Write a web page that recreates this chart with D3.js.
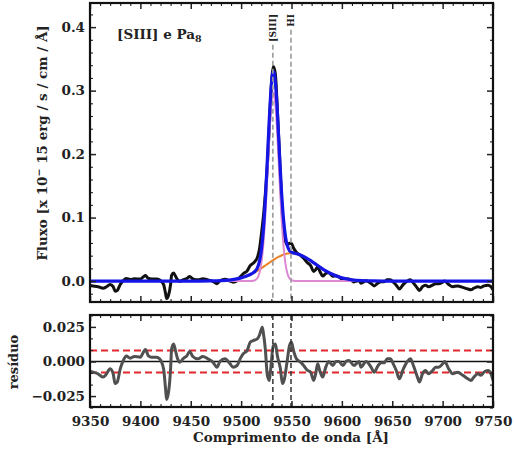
<!DOCTYPE html>
<html>
<head>
<meta charset="utf-8">
<script src="https://cdn.jsdelivr.net/npm/d3@7"></script>
<style>
  body { margin: 0; background: #fff; }
  text { font-family: "DejaVu Serif", serif; font-weight: bold; fill: #222; }
</style>
</head>
<body>
<div id="chart"></div>
<script>
const waveObs = [9350,9353,9358,9363,9366,9370,9373,9375,9377,9380,9383,9386,9390,9394,9400,9403,9405,9408,9411,9416,9419,9423,9425,9426,9428,9430,9431,9433,9434,9437,9439,9443,9446,9449,9452,9457,9462,9467,9472,9476,9479,9484,9489,9492,9496,9499,9502,9506,9509,9512,9516,9518,9521,9522,9524,9526,9528,9529,9532,9534,9536,9539,9541,9543,9546,9548,9550,9552,9555,9559,9562,9566,9569,9572,9574,9576,9578,9581,9584,9587,9591,9594,9597,9601,9604,9607,9612,9617,9619,9624,9629,9632,9636,9639,9642,9645,9648,9651,9654,9657,9661,9665,9668,9671,9675,9677,9680,9683,9686,9690,9693,9696,9700,9702,9706,9710,9715,9720,9725,9728,9731,9735,9738,9741,9745,9748,9750];

const fluxObs = [-0.0070,-0.0077,-0.0089,-0.0113,-0.0094,-0.0053,-0.0089,-0.0160,-0.0150,-0.0053,0.0007,0.0040,0.0024,0.0036,0.0031,0.0067,0.0086,0.0040,0.0031,0.0031,0.0019,-0.0053,-0.0197,-0.0274,-0.0220,-0.0053,0.0091,0.0127,0.0103,0.0019,-0.0005,0.0024,0.0040,0.0072,0.0036,0.0019,0.0036,0.0019,-0.0005,-0.0041,0.0005,0.0029,0.0000,-0.0017,0.0006,0.0065,0.0115,0.0161,0.0243,0.0281,0.0367,0.0484,0.0859,0.1003,0.1366,0.1807,0.2432,0.2783,0.3380,0.3259,0.2691,0.1663,0.1030,0.0696,0.0569,0.0596,0.0593,0.0521,0.0450,0.0405,0.0359,0.0287,0.0244,0.0152,0.0178,0.0228,0.0158,0.0078,0.0120,0.0134,0.0074,0.0082,0.0068,0.0017,0.0035,0.0034,-0.0013,0.0009,-0.0034,0.0004,-0.0039,-0.0077,-0.0029,-0.0010,-0.0010,0.0019,0.0019,-0.0017,-0.0065,-0.0125,-0.0053,0.0000,0.0019,-0.0029,-0.0113,-0.0149,-0.0089,-0.0065,-0.0089,-0.0065,-0.0041,-0.0041,-0.0017,0.0000,-0.0053,-0.0089,-0.0077,-0.0100,-0.0125,-0.0137,-0.0113,-0.0089,-0.0100,-0.0077,-0.0065,-0.0089,-0.0137];

const residObs = [-0.0070,-0.0077,-0.0089,-0.0113,-0.0094,-0.0053,-0.0089,-0.0160,-0.0150,-0.0053,0.0007,0.0040,0.0024,0.0036,0.0031,0.0067,0.0086,0.0040,0.0031,0.0031,0.0019,-0.0053,-0.0197,-0.0274,-0.0220,-0.0053,0.0091,0.0127,0.0103,0.0019,-0.0005,0.0024,0.0040,0.0072,0.0036,0.0019,0.0036,0.0019,-0.0005,-0.0041,0.0000,0.0019,-0.0017,-0.0041,-0.0029,0.0019,0.0055,0.0079,0.0139,0.0151,0.0163,0.0187,0.0247,0.0210,0.0091,-0.0100,-0.0137,-0.0077,0.0115,0.0127,0.0040,-0.0053,-0.0160,-0.0125,0.0019,0.0115,0.0139,0.0079,0.0019,-0.0005,-0.0029,-0.0065,-0.0077,-0.0137,-0.0089,-0.0017,-0.0065,-0.0113,-0.0041,0.0000,-0.0029,0.0000,0.0000,-0.0029,0.0000,0.0007,-0.0029,0.0000,-0.0041,0.0000,-0.0041,-0.0077,-0.0029,-0.0010,-0.0010,0.0019,0.0019,-0.0017,-0.0065,-0.0125,-0.0053,0.0000,0.0019,-0.0029,-0.0113,-0.0149,-0.0089,-0.0065,-0.0089,-0.0065,-0.0041,-0.0041,-0.0017,0.0000,-0.0053,-0.0089,-0.0077,-0.0100,-0.0125,-0.0137,-0.0113,-0.0089,-0.0100,-0.0077,-0.0065,-0.0089,-0.0137];

// fitted components
const waveFit = [9350,9450,9470,9480,9490,9500,9505,9510,9512,9514,9516,9518,9520,9522,9524,9526,9528,9530,9531,9532,9533,9534,9536,9538,9540,9542,9544,9546,9548,9550,9552,9554,9556,9560,9565,9570,9575,9580,9585,9590,9595,9600,9605,9610,9620,9630,9650,9750];
const fitNarrow = [0,0,0,0,0,0,0,0.0001,0.0004,0.0014,0.0043,0.0116,0.0275,0.057,0.103,0.164,0.228,0.278,0.292,0.297,0.292,0.278,0.228,0.164,0.103,0.057,0.0275,0.0116,0.0043,0.0014,0.0004,0.0001,0,0,0,0,0,0,0,0,0,0,0,0,0,0,0,0];
const fitBroad = [0,0,0.0002,0.0006,0.0019,0.0050,0.0076,0.0110,0.0126,0.0143,0.0161,0.0181,0.0201,0.0223,0.0245,0.0267,0.0289,0.0311,0.0322,0.0332,0.0342,0.0352,0.0371,0.0388,0.0403,0.0416,0.0426,0.0434,0.0438,0.0440,0.0438,0.0434,0.0426,0.0403,0.0362,0.0311,0.0256,0.0201,0.0152,0.0110,0.0076,0.0050,0.0032,0.0019,0.0006,0.0002,0,0];
const fitTotal = [0,0,0.0002,0.0006,0.0019,0.0050,0.0076,0.0111,0.0130,0.0157,0.0204,0.0297,0.0476,0.0793,0.1275,0.1907,0.2569,0.3091,0.3242,0.3302,0.3262,0.3132,0.2651,0.2028,0.1433,0.0986,0.0701,0.0550,0.0481,0.0454,0.0442,0.0435,0.0426,0.0403,0.0362,0.0311,0.0256,0.0201,0.0152,0.0110,0.0076,0.0050,0.0032,0.0019,0.0006,0.0002,0,0];

// line markers
const lineNames = ["[SIII]", "HI"];
const lineWaves = [9531.5, 9549.5];
const residSigma = 0.008;

const xMajor = d3.range(9350, 9751, 50);
const xMinor = d3.range(9350, 9751, 10).filter(v => v % 50 !== 0);
const yTopMajor = [0, 0.1, 0.2, 0.3, 0.4];
const yTopMinor = d3.range(-0.02, 0.44, 0.02).filter(v => Math.abs(v * 10 - Math.round(v * 10)) > 1e-6);
const yResMajor = [-0.025, 0, 0.025];
const yResMinor = [-0.0333, -0.0167, -0.0083, 0.0083, 0.0167, 0.0333];

const L = 90, R = 493;
const svg = d3.select("#chart").append("svg").attr("width", 514).attr("height", 453);

const x = d3.scaleLinear().domain([9350, 9750]).range([L, R]);
const yTop = d3.scaleLinear().domain([-0.033, 0.438]).range([302, 3]);
const yRes = d3.scaleLinear().domain([-0.0329, 0.0336]).range([407, 315]);

const defs = svg.append("defs");
defs.append("clipPath").attr("id", "clipTop").append("rect")
    .attr("x", L).attr("y", yTop.range()[1]).attr("width", R - L).attr("height", yTop.range()[0] - yTop.range()[1]);
defs.append("clipPath").attr("id", "clipRes").append("rect")
    .attr("x", L).attr("y", yRes.range()[1]).attr("width", R - L).attr("height", yRes.range()[0] - yRes.range()[1]);

const obs = waveObs.map((w, i) => [w, fluxObs[i], residObs[i]]);
const fitRows = waveFit.map((w, i) => ({w, n: fitNarrow[i], b: fitBroad[i], t: fitTotal[i]}));

// ---- top panel ----
const gTop = svg.append("g").attr("clip-path", "url(#clipTop)");
const lineTop = key => d3.line().x(d => x(d.w)).y(d => yTop(d[key])).curve(d3.curveMonotoneX);

gTop.append("path").datum(obs)
    .attr("d", d3.line().x(d => x(d[0])).y(d => yTop(d[1])).curve(d3.curveMonotoneX))
    .attr("fill", "none").attr("stroke", "#111").attr("stroke-width", 3).attr("stroke-linejoin", "round");
gTop.append("path").datum(fitRows).attr("d", lineTop("b"))
    .attr("fill", "none").attr("stroke", "#ec7f22").attr("stroke-width", 2);
gTop.append("path").datum(fitRows).attr("d", lineTop("n"))
    .attr("fill", "none").attr("stroke", "#dc88d2").attr("stroke-width", 2);
gTop.append("path").datum(fitRows).attr("d", lineTop("t"))
    .attr("fill", "none").attr("stroke", "#1515e6").attr("stroke-width", 3.2);

// line markers with labels
lineNames.forEach((name, i) => {
  const lx = x(lineWaves[i]);
  const t = svg.append("text")
      .attr("transform", `translate(${lx},14) rotate(-90)`)
      .attr("dy", "0.35em").attr("text-anchor", "end")
      .style("font-size", "9px").text(name);
  const len = t.node().getComputedTextLength();
  svg.append("line")
      .attr("x1", lx).attr("x2", lx).attr("y1", 14 + len + 3).attr("y2", yTop.range()[0])
      .attr("stroke", "#9a9a9a").attr("stroke-width", 1.6).attr("stroke-dasharray", "5,3");
});

function frame(yScale, yMajor, yMinor, yFmt, showX) {
  const [y0, y1] = yScale.range();
  const g = svg.append("g");
  const add = (axis, tr, size, vals, fmt) => {
    const a = g.append("g").attr("transform", tr)
        .call(axis.tickValues(vals).tickSize(size).tickSizeOuter(0).tickPadding(5).tickFormat(fmt || ""));
    a.select(".domain").remove();
    a.selectAll("line").attr("stroke", "#222").attr("stroke-width", size === -6 ? 1.5 : 1.1);
    return a;
  };
  const xl = add(d3.axisBottom(x), `translate(0,${y0})`, -6, xMajor, showX ? d3.format("d") : null);
  add(d3.axisBottom(x), `translate(0,${y0})`, -3, xMinor);
  add(d3.axisTop(x), `translate(0,${y1})`, -6, xMajor);
  add(d3.axisTop(x), `translate(0,${y1})`, -3, xMinor);
  add(d3.axisLeft(yScale), `translate(${L},0)`, -6, yMajor, yFmt);
  add(d3.axisLeft(yScale), `translate(${L},0)`, -3, yMinor);
  add(d3.axisRight(yScale), `translate(${R},0)`, -6, yMajor);
  add(d3.axisRight(yScale), `translate(${R},0)`, -3, yMinor);
  g.selectAll("text").style("font-size", "13.5px").style("font-weight", "bold").attr("fill", "#222");
  xl.selectAll("text").attr("dy", "1.0em");
  g.append("rect").attr("x", L).attr("y", y1).attr("width", R - L).attr("height", y0 - y1)
      .attr("fill", "none").attr("stroke", "#111").attr("stroke-width", 2.2);
}

frame(yTop, yTopMajor, yTopMinor, d3.format(".1f"), false);

// ---- residual panel ----
const gRes = svg.append("g").attr("clip-path", "url(#clipRes)");
gRes.append("line").attr("x1", L).attr("x2", R).attr("y1", yRes(0)).attr("y2", yRes(0))
    .attr("stroke", "#111").attr("stroke-width", 1.6);
[residSigma, -residSigma].forEach(v => {
  gRes.append("line").attr("x1", L).attr("x2", R).attr("y1", yRes(v)).attr("y2", yRes(v))
      .attr("stroke", "#e2282c").attr("stroke-width", 2).attr("stroke-dasharray", "7,4");
});
gRes.append("path").datum(obs)
    .attr("d", d3.line().x(d => x(d[0])).y(d => yRes(d[2])).curve(d3.curveMonotoneX))
    .attr("fill", "none").attr("stroke", "#505050").attr("stroke-width", 3).attr("stroke-linejoin", "round");
lineWaves.forEach(w => {
  gRes.append("line").attr("x1", x(w)).attr("x2", x(w)).attr("y1", yRes.range()[1]).attr("y2", yRes.range()[0])
      .attr("stroke", "#333").attr("stroke-width", 1.5).attr("stroke-dasharray", "5,3");
});

frame(yRes, yResMajor, yResMinor, d3.format(".3f"), true);

// ---- titles ----
const ylab = svg.append("text").attr("transform", "translate(47,143) rotate(-90)")
    .attr("text-anchor", "middle").style("font-size", "13.5px");
ylab.append("tspan").text("Fluxo [x 10");
ylab.append("tspan").attr("dy", -5).style("font-size", "9.5px").text("−");
ylab.append("tspan").attr("dy", 5).text(" 15 erg / s / cm / Å]");

svg.append("text").attr("transform", "translate(18,362) rotate(-90)")
    .attr("text-anchor", "middle").style("font-size", "13px").text("resíduo");

svg.append("text").attr("x", 291).attr("y", 442)
    .attr("text-anchor", "middle").style("font-size", "13.5px").text("Comprimento de onda [Å]");

const ann = svg.append("text").attr("x", 117).attr("y", 39).style("font-size", "13.5px");
ann.append("tspan").text("[SIII] e Pa");
ann.append("tspan").attr("dy", 3).style("font-size", "9.5px").text("8");
</script>
</body>
</html>
